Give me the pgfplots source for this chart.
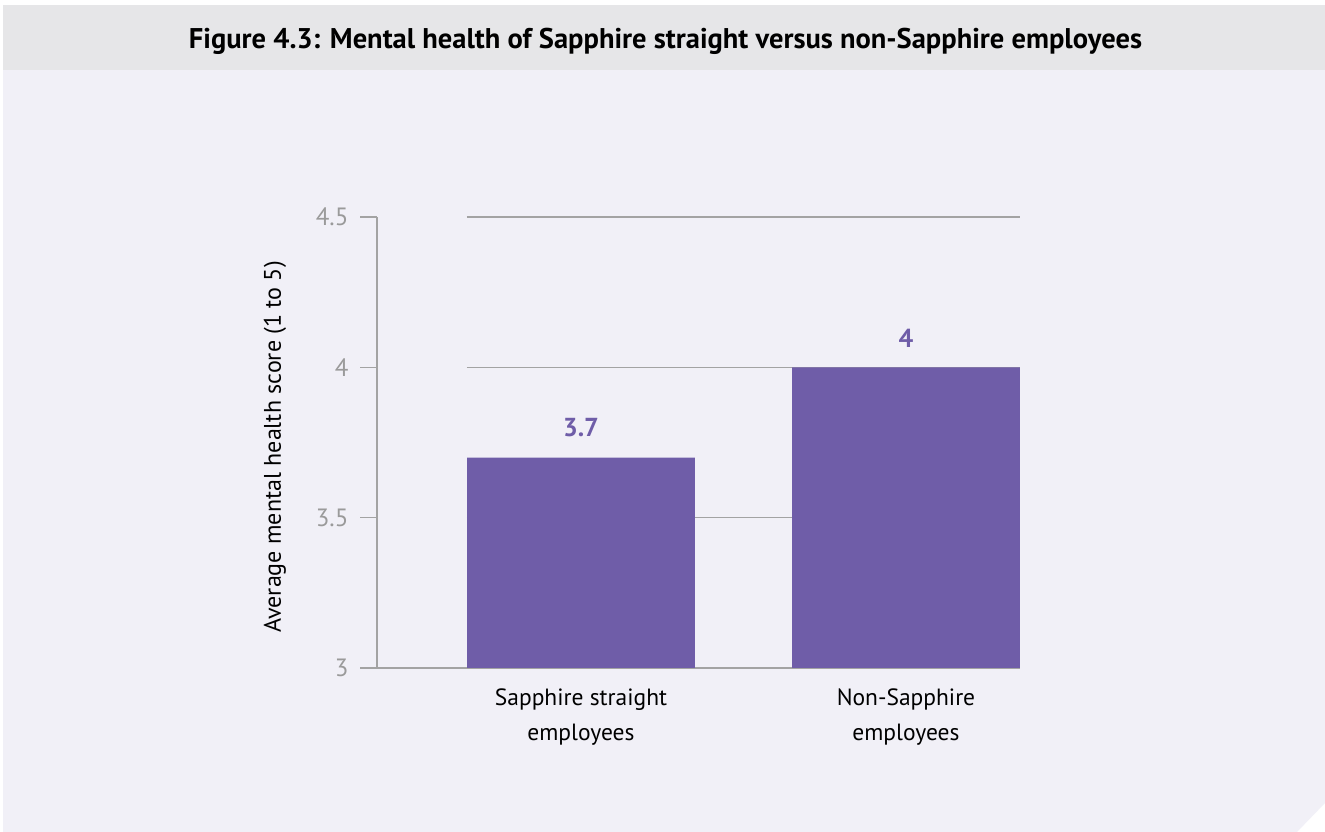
\documentclass[border=0pt]{standalone}
\usepackage{pgfplots}
\pgfplotsset{compat=1.18}
\usepackage{fontspec}
\setmainfont{PT Sans}
\definecolor{headbg}{HTML}{E6E6E8}
\definecolor{bodybg}{HTML}{F1F0F7}
\definecolor{barc}{HTML}{6F5DA8}
\definecolor{gridc}{HTML}{A3A3A3}
\definecolor{tickc}{HTML}{9A9A9A}
\begin{document}
\begin{tikzpicture}[x=1pt,y=1pt]
\fill[white] (0,0) rectangle (1325,832);
\fill[bodybg] (3,0) -- (1297,0) -- (1325,29) -- (1325,762) -- (3,762) -- cycle;
\fill[headbg] (3,762) rectangle (1325,827);
\node[anchor=base, inner sep=0pt, font=\bfseries\fontsize{28.5}{34}\selectfont] at (665.5,783) {Figure 4.3: Mental health of Sapphire straight versus non-Sapphire employees};
\begin{axis}[
  at={(377pt,164pt)}, anchor=south west,
  scale only axis, width=643pt, height=451pt,
  xmin=-0.6277, xmax=1.3508, ymin=3, ymax=4.5,
  axis lines=left,
  axis line style={-, draw=gridc, line width=1.1pt},
  xtick={0,1},
  xticklabels={{Sapphire straight\\employees},{Non-Sapphire\\employees}},
  xticklabel style={align=center, font=\fontsize{23.5}{35}\selectfont, text=black},
  x tick style={draw=none},
  ytick={3,3.5,4,4.5},
  tick align=outside,
  major tick length=17pt,
  y tick style={draw=gridc, line width=1.1pt},
  yticklabel style={font=\fontsize{25}{30}\selectfont, text=tickc, xshift=-8pt, /pgf/number format/assume math mode=true},
  ylabel={Average mental health score (1 to 5)},
  ylabel style={at={(rel axis cs:-0.1586,0.49)}, anchor=center, font=\fontsize{24}{28}\selectfont, text=black},
  ybar, bar width=0.7015,
  nodes near coords,
  nodes near coords style={font=\bfseries\fontsize{26}{30}\selectfont, text=barc, anchor=south, inner sep=0pt, yshift=20pt, /pgf/number format/assume math mode=true},
  clip=false,
]
\draw[gridc, line width=1.1pt] (axis cs:-0.3508,4.5) -- (axis cs:1.3508,4.5);
\draw[gridc, line width=1.1pt] (axis cs:-0.3508,4) -- (axis cs:1.3508,4);
\draw[gridc, line width=1.1pt] (axis cs:-0.3508,3.5) -- (axis cs:1.3508,3.5);
\addplot[fill=barc, draw=none] coordinates {(0,3.7) (1,4)};
\end{axis}
\end{tikzpicture}
\end{document}
